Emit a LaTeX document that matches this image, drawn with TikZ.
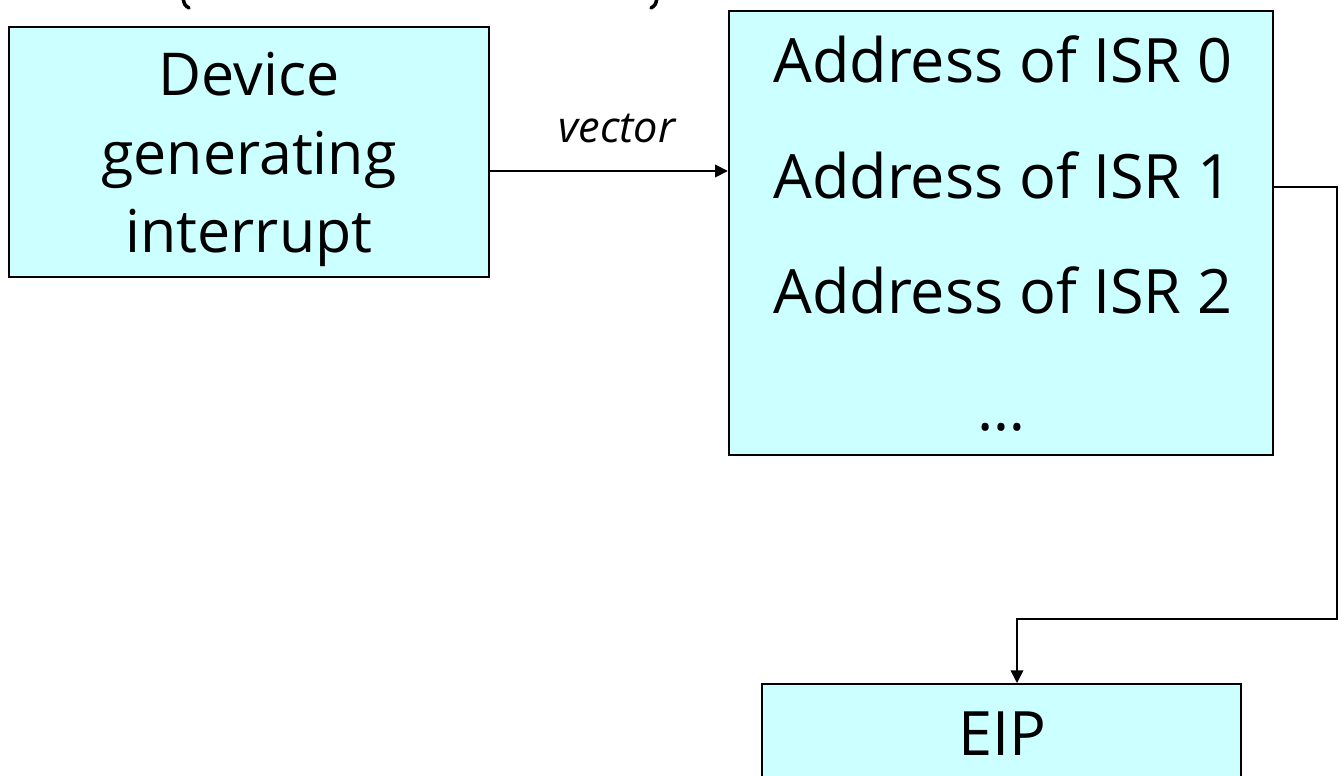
\documentclass[tikz,border=0pt]{standalone}
\usepackage{fontspec}
\setmainfont{Open Sans}
\usetikzlibrary{arrows.meta}
\definecolor{boxcyan}{HTML}{CCFFFF}
\tikzset{
  box/.style={draw=black, line width=0.6pt, fill=boxcyan, inner sep=0pt},
  bigtext/.style={anchor=base, inner sep=0pt, font=\fontsize{17.4pt}{20pt}\selectfont},
  devtext/.style={anchor=base, inner sep=0pt, font=\fontsize{16.8pt}{20pt}\selectfont},
  vectext/.style={anchor=base, inner sep=0pt, font=\fontsize{12.3pt}{14pt}\selectfont\itshape},
  conn/.style={line width=0.45pt, -{Triangle[length=3.6pt,width=3.6pt]}},
  tail/.style={line width=1pt, line cap=round},
}
\begin{document}
\begin{tikzpicture}[x=0.01cm, y=-0.01cm]
  \useasboundingbox (0,0) rectangle (1342,775);
  \clip (0,0) rectangle (1342,775);

  % lower ends of the heading's parentheses
  \draw[tail] (183,-2) .. controls (184.5,5) .. (189,8);
  \draw[tail] (657,-2) .. controls (655.5,5) .. (651,8);

  % interrupting device
  \node[box, minimum width=4.8cm, minimum height=2.5cm] (dev) at (249,152) {};
  \node[devtext] (dev1) at (249,95) {Device};
  \node[devtext] (dev2) at (249,174) {generating};
  \node[devtext] (dev3) at (249,252) {interrupt};

  % vector table
  \node[box, minimum width=5.44cm, minimum height=4.44cm] (tab) at (1001,233) {};
  \node[bigtext] (isr0) at (1003,82) {Address of ISR 0};
  \node[bigtext] (isr1) at (1003,198) {Address of ISR 1};
  \node[bigtext] (isr2) at (1003,313) {Address of ISR 2};
  \node[bigtext] (dots) at (1001,430) {…};

  % instruction pointer
  \node[box, minimum width=4.79cm, minimum height=1.6cm, anchor=north] (eip) at (1001.5,683) {};
  \node[bigtext] (eipt) at (1002,755) {EIP};

  % device -> table
  \coordinate (vy) at (0,171);
  \draw[conn] (dev.east |- vy) -- (tab.west |- vy);
  \node[vectext] (vec) at (617,142) {vector};

  % table entry -> EIP
  \coordinate (r1) at (1337,187);
  \coordinate (r2) at (1337,619);
  \coordinate (dn) at (1017,619);
  \draw[conn] (tab.east |- r1) -- (r1) -- (r2) -- (dn) -- (dn |- eip.north);
\end{tikzpicture}
\end{document}
